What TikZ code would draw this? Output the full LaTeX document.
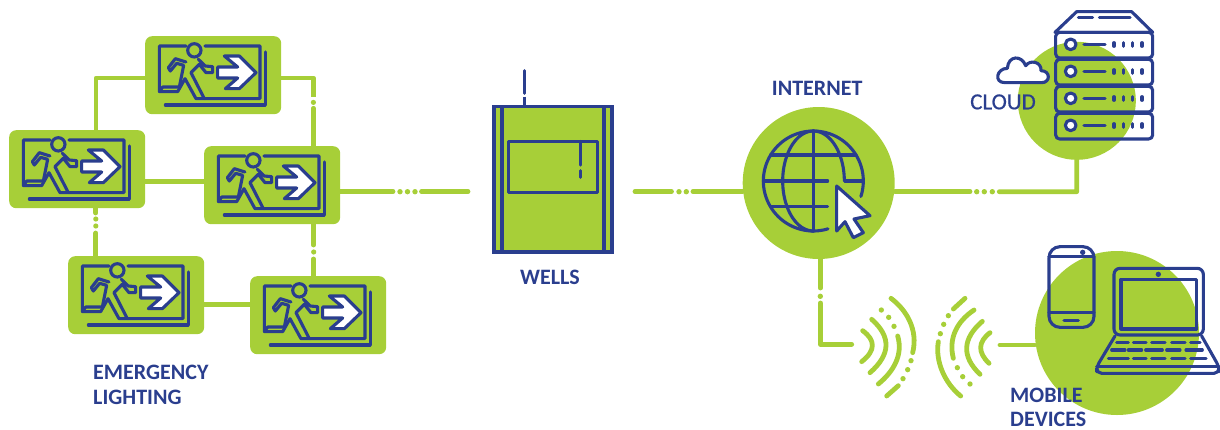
\documentclass[tikz,border=0pt]{standalone}
\usepackage{fontspec}
\setmainfont{Carlito}
\newfontfamily\cloudfont[FakeBold=0.5]{Carlito}
\definecolor{lime}{HTML}{A7CF38}
\definecolor{navy}{HTML}{2A3E8E}
\tikzset{
  signbox/.style={fill=lime,rounded corners=7pt,minimum width=136pt,minimum height=78pt,inner sep=0pt,anchor=north west},
  wire/.style={draw=lime,line width=4.8pt,line cap=round,line join=round},
  flat/.style={draw=lime,line width=4.8pt,line join=round},
  ink/.style={draw=navy,line width=3.1pt,line join=round,line cap=round},
  lab/.style={text=navy,font=\fontsize{22}{25}\selectfont\bfseries,inner sep=0pt,align=left},
  labthin/.style={text=navy,font=\fontsize{23}{25}\selectfont\cloudfont,inner sep=0pt},
  disc/.style={circle,fill=lime,inner sep=0pt}
}
\newcommand{\signart}[2]{%
\begin{scope}[shift={(#1-9,#2-110)},x=0.33333pt,y=-0.33333pt]
 \draw[ink] (150,360)--(70,360)--(70,497)--(125,497)--(147,458)--(180,518)--(372,518)--(372,360)--(207,360);
 \draw[ink] (175,373) circle[radius=20];
 \draw[ink] (388,378)--(388,537)--(88,537);
 \draw[ink] (70,497)--(80,483)--(130,483)--(143,418)--(122,412)--(103,435)--(97,425)--(118,398)--(150,408);
 \draw[ink] (205,518)--(165,440)--(190,415)--(210,440)--(230,440)--(230,422)--(208,420)--(187,400);
 \draw[ink,fill=white] (265,390)--(310,390)--(360,440)--(310,488)--(268,488)--(305,456)--(245,456)--(245,423)--(305,423)--cycle;
\end{scope}}
\begin{document}
\begin{tikzpicture}[x=1pt,y=-1pt]
\useasboundingbox (0,0) rectangle (1220,429);
% discs
\node[disc,minimum size=152pt] (net) at (818.7,183) {};
\node[disc,minimum size=118pt] (cloudbg) at (1076.8,100.8) {};
\node[disc,minimum size=164pt] (mobbg) at (1117,333) {};
% sign boxes
\node[signbox] (A) at (145,36) {};
\node[signbox] (B) at (9,130) {};
\node[signbox] (C) at (204,146) {};
\node[signbox] (D) at (68,256) {};
\node[signbox] (E) at (250,276) {};
% wells
\node[fill=lime,draw=navy,line width=3.1pt,outer sep=0pt,minimum width=118pt,minimum height=145.3pt,inner sep=0pt,anchor=north west] (W) at (494,106.7) {};
% free ends
\coordinate (wellsL) at (468,191.7);
\coordinate (wellsR) at (635,191.7);
\coordinate (wifiL) at (851.7,344.3);
\coordinate (wifiR) at (1000,345);
% connectors
\draw[flat] (A.west |- 0,78) -| (96,130);
\draw[wire,line cap=butt] (A.east |- 0,78) -- (313.4,78) -- (313.4,96.7);
\fill[lime] (313.4,102.4) circle[radius=2.6];
\draw[wire] (313.4,108.3) -- (C.north -| 313.4,0);
\draw[flat] (B.east |- 0,181.5) -- (C.west |- 0,181.5);
\draw[wire] (B.south -| 95.8,0) -- (95.8,213);
\fill[lime] (95.8,219) circle[radius=2.6];
\fill[lime] (95.8,226) circle[radius=2.6];
\draw[wire] (95.8,233) -- (D.north -| 95.8,0);
\draw[wire] (C.south -| 313.7,0) -- (313.7,245);
\fill[lime] (313.7,252) circle[radius=2.6];
\draw[wire] (313.7,259) -- (E.north -| 313.7,0);
\draw[flat] (D.east |- 0,304.3) -- (E.west |- 0,304.3);
\draw[wire] (C.east |- 0,191.7) -- (393,191.7);
\foreach \xx in {400,407.5,415} \fill[lime] (\xx,191.7) circle[radius=2.7];
\draw[wire] (421.5,191.7) -- (wellsL);
\draw[wire] (wellsR) -- (671.5,191.7);
\foreach \xx in {679,686.3} \fill[lime] (\xx,191.7) circle[radius=2.7];
\draw[wire] (693,191.7) -- (net.west |- 0,191.7);
\draw[wire] (net.east |- 0,191.7) -- (970,191.7);
\foreach \xx in {976.7,984.3,992.3} \fill[lime] (\xx,191.7) circle[radius=2.7];
\draw[wire] (999.3,191.7) -- (1076.7,191.7) -- (cloudbg.south);
\draw[wire] (net.south -| 820.3,0) -- (820.3,288);
\fill[lime] (820.3,296.3) circle[radius=2.7];
\draw[wire] (820.3,303) -- (820.3,344.3) -- (wifiL);
\draw[wire] (wifiR) -- (mobbg.west |- 0,345);
% signs
\signart{145}{36}
\signart{9}{130}
\signart{204}{146}
\signart{68}{256}
\signart{250}{276}
% wells details
\begin{scope}[shift={(480,60)},x=0.33333pt,y=-0.33333pt]
 \draw[ink] (66,140)--(66,576);
 \draw[ink] (372,140)--(372,576);
 \draw[ink] (85,244) rectangle (352,397);
 \draw[ink] (302,244)--(302,315);
 \draw[ink] (302,332)--(302,352);
 \draw[ink] (133,32)--(133,100);
 \draw[ink,line cap=butt] (133,110)--(133,140);
\end{scope}
% globe
\begin{scope}[shift={(730,70)},x=0.33333pt,y=-0.33333pt]
 \draw[ink] plot[smooth,domain=73:378,samples=80] ({250+150*cos(\x)},{333+150*sin(\x)});
 \draw[ink] (250,183)--(250,483);
 \draw[ink] (122,255)--(378,255);
 \draw[ink] (100,333)--(293,333);
 \draw[ink] (345,333)--(400,333);
 \draw[ink] (121,410)--(293,410);
 \draw[ink] plot[smooth,domain=90:270,samples=40] ({250+92*cos(\x)},{333+150*sin(\x)});
 \draw[ink] plot[smooth,domain=-90:0,samples=30] ({250+93*cos(\x)},{333+150*sin(\x)});
 \draw[ink,fill=white] (320,348)--(420,437)--(372,447)--(400,488)--(370,503)--(345,455)--(320,483)--cycle;
\end{scope}
% server
\begin{scope}[shift={(960,0)},x=0.33333pt,y=-0.33333pt]
 \draw[ink,fill=white] (285,97)--(350,35)--(515,35)--(578,97)--cycle;
 \draw[ink] (355,53)--(398,53);
 \draw[ink] (418,53)--(510,53);
 \foreach \yy in {97,178,259,340}{
  \draw[ink,rounded corners=4pt] (287,\yy) rectangle (578,\yy+77);
  \draw[ink,fill=white] (332,\yy+36) circle[radius=16];
  \draw[ink] (372,\yy+36)--(435,\yy+36);
  \foreach \xx in {462,490,518,546} \draw[ink] (\xx,\yy+31)--(\xx,\yy+42);
 }
 % cloud
 \draw[ink,fill=white] (135,248)--(245,248) .. controls (272,248) and (272,212) .. (243,212)
   .. controls (245,185) and (210,178) .. (197,197)
   .. controls (185,165) and (145,165) .. (142,205)
   .. controls (110,205) and (100,248) .. (135,248) -- cycle;
\end{scope}
% phone + laptop
\begin{scope}[shift={(1000,235)},x=0.33333pt,y=-0.33333pt]
 \draw[ink,rounded corners=11pt] (147,35) rectangle (282,277);
 \draw[ink] (147,65)--(282,65);
 \draw[ink] (147,232)--(282,232);
 \fill[navy] (248,52) circle[radius=8];
 \draw[ink] (192,256)--(235,256);
 \draw[ink,rounded corners=6pt] (342,100) rectangle (610,300);
 \draw[ink] (363,133) rectangle (590,282);
 \fill[navy] (475,118) circle[radius=8];
 \draw[ink,rounded corners=5pt] (345,303)--(290,395)--(290,415)--(657,415)--(657,395)--(605,303);
 \draw[ink] (290,395)--(657,395);
 \foreach \a/\b in {350/385,400/438,455/495,515/555,572/600} \draw[ink] (\a,323)--(\b,323);
 \foreach \a/\b in {335/375,385/425,437/487,500/540,558/607} \draw[ink] (\a,345)--(\b,345);
 \foreach \a/\b in {325/385,400/438,455/495,515/555,572/618} \draw[ink] (\a,370)--(\b,370);
\end{scope}
% wifi
\begin{scope}[shift={(810,255)},x=0.33333pt,y=-0.33333pt]
 \draw[wire] (158,227) .. controls (197.7,256) and (196.7,287.3) .. (155,320);
 \draw[wire] (185,193) .. controls (244,245) and (242.3,298.3) .. (180,353);
 \draw[wire] (263,243) .. controls (280,300) and (250,350) .. (205,387);
 \draw[wire] (243,130) .. controls (290,165) and (325,225) .. (308,293);
 \draw[wire] (265,392)--(230,423);
 \foreach \p in {(214,165),(236,187),(252,214),(303,317),(293,344),(279,371),(415,182),(401,208),(391,236),(442,338),(458,365),(480,387)}
   \fill[lime] \p circle[radius=8];
 \draw[wire] (540,233) .. controls (503.7,261) and (502.7,291.7) .. (537,325);
 \draw[wire] (517,199) .. controls (456.7,251.3) and (454.3,304.3) .. (510,358);
 \draw[wire] (492,165) .. controls (440,200) and (415,250) .. (430,310);
 \draw[wire] (465,130)--(430,162);
 \draw[wire] (385,260) .. controls (375,320) and (405,385) .. (452,423);
\end{scope}
% labels
\node[lab,anchor=north west] (lEm) at (93,364.5) {EMERGENCY\\LIGHTING};
\node[lab,anchor=base west] (lWe) at (520,284) {WELLS};
\node[lab,anchor=base west] (lIn) at (771.7,95) {INTERNET};
\node[labthin,anchor=base west] (lCl) at (970,109.3) {CLOUD};
\node[lab,anchor=north west] (lMo) at (1010,387.6) {MOBILE\\[-1pt]DEVICES};
\end{tikzpicture}
\end{document}
